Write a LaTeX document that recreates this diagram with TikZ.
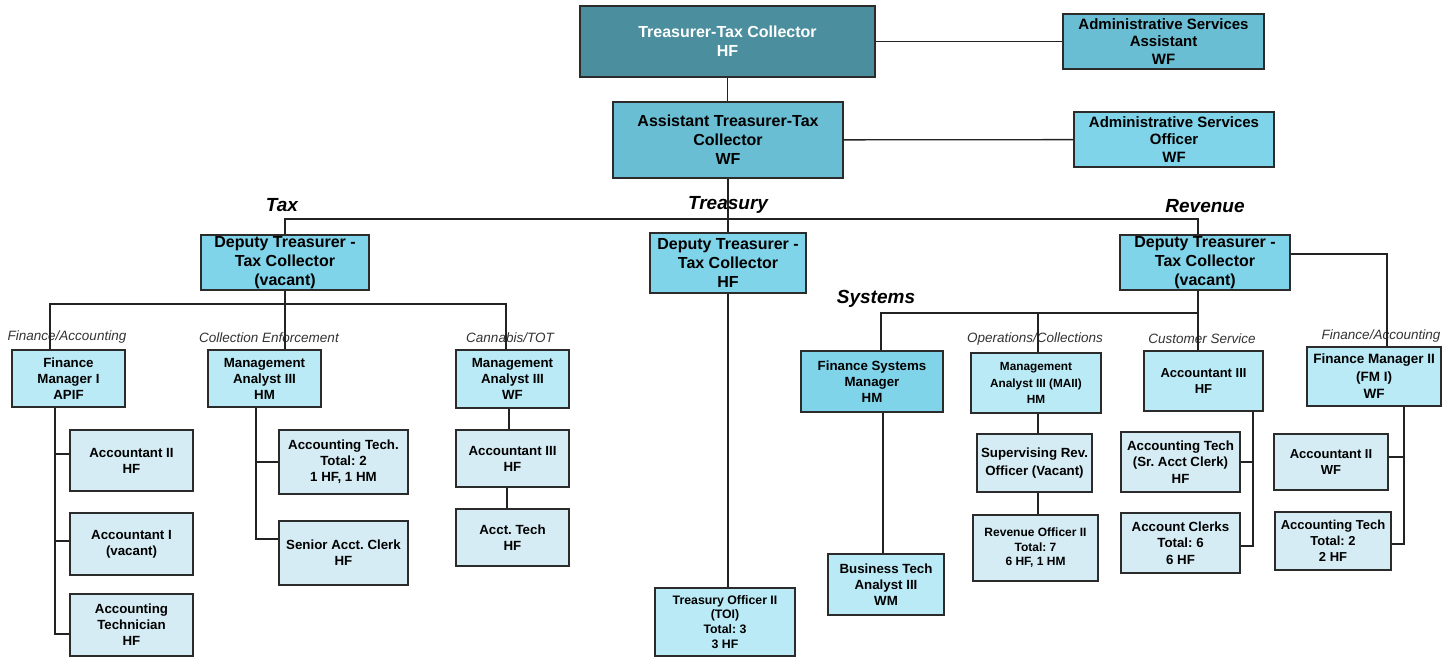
\documentclass[tikz,border=0pt]{standalone}
\usepackage{fontspec}
\setmainfont{Liberation Sans}
\frenchspacing
\newcommand{\fsz}[2]{\fontsize{#1}{#2}\selectfont}
\definecolor{edgec}{HTML}{2B2B2B}
\definecolor{linec}{HTML}{222222}
\definecolor{czero}{HTML}{4B8F9F}
\definecolor{cone}{HTML}{69BED3}
\definecolor{ctwo}{HTML}{7FD4E9}
\definecolor{cthree}{HTML}{B9EAF6}
\definecolor{cfour}{HTML}{D5ECF4}
\definecolor{labc}{HTML}{333333}
\begin{document}
\begin{tikzpicture}[x=1pt,y=-1pt,
  box/.style={draw=edgec, line width=1.1pt, inner sep=0pt, align=center, text=black, font=\bfseries\fsz{13.3}{16}},
  wh/.style 2 args={minimum width=#1pt, minimum height=#2pt},
  big/.style={font=\bfseries\fsz{16}{19}},
  mid/.style={font=\bfseries\fsz{15}{17.5}},
  small/.style={font=\bfseries\fsz{12.3}{14.8}},
  conn/.style={draw=linec, line width=1.3pt},
  sec/.style={font=\bfseries\itshape\fsz{19}{22}, text=black, inner sep=0pt},
  sub/.style={font=\itshape\fsz{13.5}{16}, text=labc, inner sep=0pt}]
\fill[white] (0,0) rectangle (1455,656);
\useasboundingbox (0,0) rectangle (1455,656);

% top levels
\node[box, big, fill=czero, text=white, wh={295}{71}] (top) at (727.5,41.5) {Treasurer-Tax Collector\\HF};
\node[box, mid, fill=cone, wh={201}{55}] (asa) at (1163.5,41.5) {Administrative Services\\Assistant\\WF};
\node[box, big, fill=cone, wh={230}{76}] (atc) at (728,140) {Assistant Treasurer-Tax\\Collector\\WF};
\node[box, mid, fill=ctwo, wh={200}{55}] (aso) at (1174,139.5) {Administrative Services\\Officer\\WF};

% deputies
\node[box, big, fill=ctwo, wh={168}{55}] (dtax) at (285,262.5) {Deputy Treasurer -\\Tax Collector\\(vacant)};
\node[box, big, fill=ctwo, wh={156}{60}] (dtre) at (728,263) {Deputy Treasurer -\\Tax Collector\\HF};
\node[box, big, fill=ctwo, wh={170}{55}] (drev) at (1205,262.5) {Deputy Treasurer -\\Tax Collector\\(vacant)};

% section labels
\node[sec] (ltax) at (282,205) {Tax};
\node[sec] (ltre) at (728,205) {Treasury};
\node[sec] (lrev) at (1205,206) {Revenue};
\node[sec] (lsys) at (876,299) {Systems};

% tax branch
\node[box, fill=cthree, wh={113}{57}] (fm1) at (68.5,378.5) {Finance\\Manager I\\APIF};
\node[box, fill=cthree, wh={113}{57}] (ma1) at (264.5,378.5) {Management\\Analyst III\\HM};
\node[box, fill=cthree, wh={113}{58}] (ma2) at (512.5,379) {Management\\Analyst III\\WF};
\node[sub] (lfa) at (67,337) {Finance/Accounting};
\node[sub] (lce) at (269,338) {Collection Enforcement};
\node[sub] (lct) at (510,338) {Cannabis/TOT};

\node[box, fill=cfour, wh={123}{61}] (acc2) at (131.5,460.5) {Accountant II\\HF};
\node[box, fill=cfour, wh={123}{62}] (acc1) at (131.5,544) {Accountant I\\(vacant)};
\node[box, fill=cfour, wh={123}{62}] (acct) at (131.5,625) {Accounting\\Technician\\HF};
\node[box, fill=cfour, wh={129}{64}] (at2) at (343.5,462) {Accounting Tech.\\Total: 2\\1 HF, 1 HM};
\node[box, fill=cfour, wh={129}{64}] (sac) at (343.5,553) {Senior Acct. Clerk\\HF};
\node[box, fill=cfour, wh={113}{57}] (ac3) at (512.5,458.5) {Accountant III\\HF};
\node[box, fill=cfour, wh={113}{57}] (atech) at (512.5,537.5) {Acct. Tech\\HF};

% treasury branch
\node[box, small, fill=cthree, wh={140}{68}] (to2) at (725,622) {Treasury Officer II\\(TOI)\\Total: 3\\3 HF};

% revenue branch
\node[box, fill=ctwo, wh={142}{61}] (fsm) at (872,381.5) {Finance Systems\\Manager\\HM};
\node[box, fill=cthree, wh={116}{61}] (bt) at (886,584.5) {Business Tech\\Analyst III\\WM};
\node[box, fill=cthree, wh={130}{60}, font=\bfseries\fsz{11.8}{16.5}] (mam) at (1036,383) {Management\\Analyst III (MAII)\\HM};
\node[box, fill=cfour, wh={115}{58}, font=\bfseries\fsz{13.3}{18}] (srv) at (1034.5,463) {Supervising Rev.\\Officer (Vacant)};
\node[box, fill=cfour, wh={125}{66}, font=\bfseries\fsz{12}{14.5}] (ro2) at (1035.5,548) {Revenue Officer II\\Total: 7\\6 HF, 1 HM};
\node[box, fill=cthree, wh={119}{60}, font=\bfseries\fsz{13}{16.5}] (ac3c) at (1203.5,381) {Accountant III\\HF};
\node[box, fill=cfour, wh={119}{60}, font=\bfseries\fsz{13.3}{16.5}] (ats) at (1180.5,462) {Accounting Tech\\(Sr. Acct Clerk)\\HF};
\node[box, fill=cfour, wh={119}{60}, font=\bfseries\fsz{13.3}{16.5}] (acl) at (1180.5,543) {Account Clerks\\Total: 6\\6 HF};
\node[box, fill=cthree, wh={134}{59}, font=\bfseries\fsz{13.5}{17.5}] (fm2) at (1374,376.5) {Finance Manager II\\(FM I)\\WF};
\node[box, fill=cfour, wh={114}{56}, font=\bfseries\fsz{13}{16.5}] (ac2w) at (1331,462) {Accountant II\\WF};
\node[box, fill=cfour, wh={116}{58}, font=\bfseries\fsz{13}{16}] (at2w) at (1333,541) {Accounting Tech\\Total: 2\\2 HF};
\node[sub] (loc) at (1035,339) {Operations/Collections};
\node[sub] (lcs) at (1202,339) {Customer Service};
\node[sub] (lfa2) at (1381,336) {Finance/Accounting};

% coordinates
\coordinate (bus) at (728,219);
\coordinate (tb) at (285,304);
\coordinate (rb) at (1198,313);

% connectors: top
\draw[conn] (top) -- (asa);
\draw[conn] (top.south) -- (top.south |- atc.north);
\draw[conn] (atc) -- (aso);
\draw[conn] (atc.south) -- (dtre.north);
\draw[conn] (dtax.north) |- (bus) -| ([xshift=-7pt]drev.north);

% tax
\draw[conn] (dtax.south) -- ([xshift=20.5pt]ma1.north);
\draw[conn] ([xshift=-18.5pt]fm1.north) |- (tb) -| ([xshift=-6.5pt]ma2.north);
\draw[conn] ([xshift=-13.5pt]fm1.south) |- ([yshift=-9pt]acct.west);
\draw[conn] ([yshift=6.5pt]acc2.west) -- ++(-15,0);
\draw[conn] ([yshift=3pt]acc1.west) -- ++(-15,0);
\draw[conn] ([xshift=-8.5pt]ma1.south) |- ([yshift=14pt]sac.west);
\draw[conn] (at2.west) -- ++(-23,0);
\draw[conn] ([xshift=-3.5pt]ma2.south) -- ([xshift=-3.5pt]ac3.north);
\draw[conn] ([xshift=-5.5pt]ac3.south) -- ([xshift=-5.5pt]atech.north);

% treasury
\draw[conn] (dtre.south) -- (dtre.south |- to2.north);

% revenue
\draw[conn] ([xshift=-7pt]drev.south) -- ([xshift=-5.5pt]ac3c.north);
\draw[conn] ([xshift=9pt]fsm.north) |- (rb);
\draw[conn] ([xshift=2pt]mam.north) -- ([xshift=2pt]mam.north |- rb);
\draw[conn] ([xshift=11pt]fsm.south) -- ([xshift=11pt]fsm.south |- bt.north);
\draw[conn] ([xshift=2pt]mam.south) -- ([xshift=2pt]mam.south |- srv.north);
\draw[conn] ([xshift=3.5pt]srv.south) -- ([xshift=3.5pt]srv.south |- ro2.north);
\draw[conn] ([xshift=49.5pt]ac3c.south) |- ([yshift=-3pt]acl.east);
\draw[conn] (ats.east) -- ++(13,0);
\draw[conn] ([yshift=8.5pt]drev.east) -| ([xshift=13pt]fm2.north);
\draw[conn] ([xshift=30pt]fm2.south) |- ([yshift=-3pt]at2w.east);
\draw[conn] ([yshift=5pt]ac2w.east) -- ++(16,0);
\end{tikzpicture}
\end{document}
